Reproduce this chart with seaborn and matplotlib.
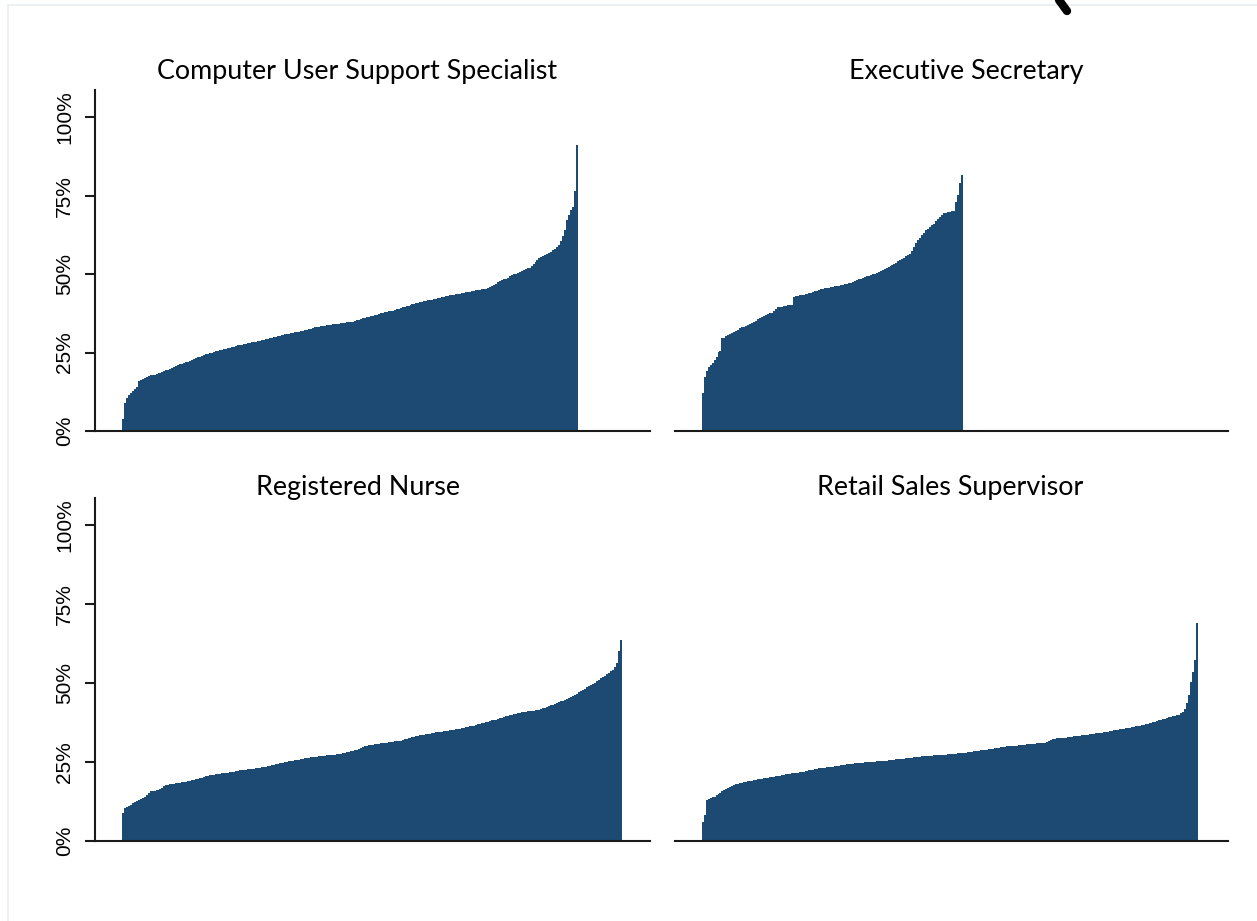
import pandas as pd
import matplotlib.pyplot as plt
import seaborn as sns
from matplotlib.lines import Line2D

# share of each occupation's postings, sorted low to high (values in percent)
jobs = ["Computer User Support Specialist", "Executive Secretary",
        "Registered Nurse", "Retail Sales Supervisor"]

computer = [
    3.8, 8.9, 10.5, 11.5, 12.0, 12.9, 13.4, 13.9, 16.0, 16.2,
    16.5, 16.8, 17.2, 17.6, 17.7, 17.9, 18.0, 18.2, 18.4, 18.6,
    18.8, 19.1, 19.4, 19.6, 19.9, 20.2, 20.5, 20.7, 20.9, 21.2,
    21.4, 21.7, 21.9, 22.0, 22.3, 22.6, 22.9, 23.2, 23.5, 23.7,
    24.0, 24.2, 24.4, 24.6, 24.8, 25.0, 25.2, 25.4, 25.6, 25.8,
    25.9, 26.0, 26.2, 26.4, 26.6, 26.8, 26.9, 27.1, 27.3, 27.4,
    27.5, 27.7, 27.8, 28.0, 28.1, 28.3, 28.4, 28.5, 28.7, 28.8,
    29.0, 29.1, 29.3, 29.4, 29.6, 29.7, 29.9, 30.0, 30.2, 30.4,
    30.5, 30.6, 30.8, 30.9, 31.0, 31.2, 31.3, 31.5, 31.6, 31.7,
    31.9, 32.0, 32.1, 32.2, 32.4, 32.6, 32.8, 33.0, 33.2, 33.3,
    33.4, 33.5, 33.6, 33.7, 33.8, 33.9, 34.0, 34.1, 34.1, 34.2,
    34.3, 34.4, 34.5, 34.6, 34.6, 34.7, 34.9, 35.1, 35.3, 35.5,
    35.7, 35.9, 36.0, 36.2, 36.4, 36.6, 36.6, 36.9, 37.1, 37.3,
    37.5, 37.6, 37.8, 37.9, 38.1, 38.2, 38.4, 38.6, 38.8, 39.0,
    39.2, 39.4, 39.6, 39.8, 40.0, 40.2, 40.4, 40.6, 40.8, 40.9,
    41.1, 41.2, 41.4, 41.5, 41.6, 41.8, 41.9, 42.1, 42.2, 42.3,
    42.5, 42.7, 42.8, 43.0, 43.1, 43.2, 43.4, 43.5, 43.6, 43.7,
    43.8, 43.9, 44.1, 44.2, 44.3, 44.4, 44.6, 44.7, 44.8, 44.9,
    45.0, 45.2, 45.3, 45.4, 45.6, 45.9, 46.3, 46.6, 47.0, 47.4,
    47.8, 48.1, 48.4, 48.6, 48.9, 49.3, 49.6, 50.0, 50.2, 50.5,
    50.8, 51.0, 51.3, 51.5, 51.8, 52.0, 52.5, 53.1, 53.8, 54.4,
    55.0, 55.4, 55.8, 56.1, 56.5, 56.8, 57.2, 57.7, 58.1, 58.6,
    59.2, 60.5, 62.1, 64.0, 67.2, 69.0, 70.4, 71.4, 76.5, 91.2,
]

secretary = [
    12.2, 17.3, 19.2, 20.5, 21.0, 21.6, 22.6, 23.5, 25.3, 25.4,
    29.5, 29.8, 30.2, 30.5, 30.8, 31.1, 31.5, 31.9, 32.3, 32.7,
    33.0, 33.3, 33.6, 33.9, 34.2, 34.5, 34.9, 35.2, 35.6, 36.0,
    36.4, 36.7, 37.0, 37.2, 37.5, 37.7, 38.2, 38.8, 39.4, 39.5,
    39.6, 39.8, 39.9, 40.1, 40.2, 40.3, 42.8, 43.0, 43.1, 43.3,
    43.4, 43.5, 43.6, 43.7, 43.9, 44.0, 44.2, 44.5, 44.7, 44.9,
    45.2, 45.4, 45.5, 45.6, 45.7, 45.8, 46.0, 46.1, 46.2, 46.3,
    46.5, 46.6, 46.8, 46.9, 47.1, 47.2, 47.5, 47.8, 48.1, 48.4,
    48.6, 48.8, 49.1, 49.3, 49.5, 49.7, 49.9, 50.2, 50.4, 50.7,
    51.0, 51.3, 51.7, 52.0, 52.3, 52.5, 52.9, 53.3, 53.7, 54.1,
    54.5, 54.9, 55.3, 55.7, 56.0, 56.4, 57.5, 58.7, 59.8, 60.8,
    61.6, 62.4, 63.2, 64.0, 64.5, 65.0, 65.6, 66.1, 66.8, 67.6,
    68.3, 68.9, 69.5, 69.6, 69.8, 69.9, 70.1, 70.2, 73.0, 75.2,
    79.1, 81.7,
]

nurse = [
    8.8, 10.4, 10.8, 11.1, 11.5, 12.0, 12.5, 12.8, 13.1, 13.4,
    13.7, 14.1, 14.6, 15.2, 15.7, 15.8, 15.9, 16.1, 16.2, 16.4,
    16.8, 17.3, 17.7, 17.9, 18.0, 18.1, 18.2, 18.3, 18.4, 18.5,
    18.6, 18.6, 18.7, 18.9, 19.1, 19.3, 19.4, 19.6, 19.8, 19.9,
    20.1, 20.3, 20.5, 20.6, 20.8, 20.9, 21.0, 21.1, 21.2, 21.3,
    21.4, 21.5, 21.6, 21.7, 21.8, 21.9, 22.0, 22.1, 22.3, 22.4,
    22.5, 22.6, 22.6, 22.7, 22.8, 22.9, 22.9, 23.0, 23.1, 23.2,
    23.3, 23.5, 23.6, 23.8, 23.9, 24.1, 24.2, 24.3, 24.4, 24.6,
    24.7, 24.8, 25.0, 25.1, 25.2, 25.3, 25.4, 25.6, 25.7, 25.8,
    25.9, 26.0, 26.2, 26.3, 26.4, 26.5, 26.5, 26.6, 26.7, 26.8,
    26.9, 26.9, 27.0, 27.1, 27.2, 27.3, 27.4, 27.4, 27.5, 27.6,
    27.7, 27.8, 27.9, 28.1, 28.3, 28.4, 28.6, 28.8, 28.9, 29.1,
    29.4, 29.7, 30.0, 30.2, 30.3, 30.4, 30.5, 30.6, 30.7, 30.8,
    30.9, 31.0, 31.1, 31.2, 31.3, 31.4, 31.5, 31.6, 31.7, 31.7,
    31.8, 32.0, 32.2, 32.4, 32.6, 32.8, 33.0, 33.1, 33.3, 33.4,
    33.5, 33.6, 33.7, 33.8, 33.9, 34.0, 34.1, 34.2, 34.4, 34.5,
    34.6, 34.7, 34.8, 34.9, 35.0, 35.1, 35.2, 35.3, 35.4, 35.4,
    35.5, 35.7, 35.9, 36.0, 36.2, 36.3, 36.5, 36.6, 36.8, 37.0,
    37.1, 37.3, 37.4, 37.6, 37.8, 38.0, 38.2, 38.4, 38.5, 38.7,
    38.9, 39.1, 39.3, 39.5, 39.7, 39.8, 40.0, 40.2, 40.4, 40.5,
    40.7, 40.8, 40.9, 41.0, 41.1, 41.1, 41.2, 41.3, 41.4, 41.5,
    41.6, 41.8, 42.0, 42.3, 42.5, 42.7, 43.0, 43.2, 43.5, 43.7,
    44.0, 44.3, 44.5, 44.8, 45.1, 45.4, 45.7, 46.0, 46.3, 46.7,
    47.1, 47.5, 47.9, 48.3, 48.7, 49.0, 49.4, 49.8, 50.2, 50.6,
    51.1, 51.5, 52.0, 52.4, 52.9, 53.3, 53.8, 54.3, 55.3, 56.4,
    60.1, 63.6,
]

retail = [
    6.1, 8.2, 13.0, 13.2, 13.5, 13.8, 14.1, 14.5, 14.9, 15.3,
    15.8, 16.2, 16.5, 16.8, 17.1, 17.4, 17.7, 18.0, 18.1, 18.3,
    18.4, 18.6, 18.7, 18.9, 19.0, 19.1, 19.3, 19.4, 19.5, 19.6,
    19.8, 19.9, 20.0, 20.1, 20.2, 20.3, 20.4, 20.5, 20.6, 20.7,
    20.9, 21.0, 21.1, 21.2, 21.3, 21.4, 21.5, 21.6, 21.7, 21.8,
    21.9, 22.0, 22.1, 22.2, 22.4, 22.5, 22.6, 22.7, 22.9, 23.0,
    23.1, 23.2, 23.2, 23.3, 23.4, 23.5, 23.6, 23.7, 23.8, 23.9,
    24.0, 24.1, 24.2, 24.3, 24.3, 24.4, 24.5, 24.6, 24.7, 24.7,
    24.8, 24.8, 24.9, 24.9, 25.0, 25.0, 25.1, 25.1, 25.2, 25.2,
    25.3, 25.4, 25.4, 25.5, 25.6, 25.6, 25.7, 25.8, 25.9, 25.9,
    26.0, 26.1, 26.1, 26.2, 26.3, 26.3, 26.4, 26.5, 26.6, 26.6,
    26.7, 26.8, 26.8, 26.9, 26.9, 27.0, 27.0, 27.1, 27.1, 27.2,
    27.2, 27.3, 27.3, 27.4, 27.5, 27.5, 27.6, 27.6, 27.7, 27.8,
    27.8, 27.9, 27.9, 28.0, 28.1, 28.2, 28.3, 28.4, 28.4, 28.5,
    28.6, 28.7, 28.8, 28.8, 28.9, 29.0, 29.2, 29.3, 29.4, 29.5,
    29.6, 29.7, 29.8, 29.9, 30.0, 30.0, 30.1, 30.1, 30.2, 30.2,
    30.3, 30.3, 30.4, 30.5, 30.6, 30.6, 30.7, 30.8, 30.8, 30.9,
    31.0, 31.0, 31.1, 31.2, 31.5, 31.8, 32.1, 32.3, 32.4, 32.5,
    32.5, 32.6, 32.6, 32.7, 32.8, 32.9, 33.0, 33.1, 33.2, 33.3,
    33.4, 33.4, 33.5, 33.6, 33.6, 33.7, 33.8, 33.9, 34.0, 34.1,
    34.2, 34.3, 34.3, 34.4, 34.5, 34.7, 34.8, 35.0, 35.1, 35.2,
    35.3, 35.4, 35.5, 35.6, 35.7, 35.8, 35.9, 36.0, 36.1, 36.3,
    36.4, 36.5, 36.7, 36.8, 37.0, 37.1, 37.3, 37.4, 37.6, 37.8,
    38.0, 38.2, 38.4, 38.6, 38.8, 39.0, 39.2, 39.3, 39.5, 39.7,
    39.8, 40.0, 40.5, 41.0, 41.8, 43.7, 46.3, 50.3, 53.7, 57.3,
    69.1,
]

ytick_vals = [0, 25, 50, 75, 100]
ytick_labels = ["0%", "25%", "50%", "75%", "100%"]

# long table, one row per bar
frames = []
for job, vals in zip(jobs, [computer, secretary, nurse, retail]):
    frames.append(pd.DataFrame({"job": job, "rank": range(len(vals)), "share": vals}))
df = pd.concat(frames, ignore_index=True)

sns.set_style("white")
plt.rcParams["font.family"] = ["Liberation Sans", "DejaVu Sans"]

W, H = 1257, 921
fig = plt.figure(figsize=(W / 100, H / 100), dpi=100)

# axes boxes in pixels: left, baseline, right, top
boxes = [(95, 431, 650, 90), (675, 431, 1228, 90),
         (95, 841, 650, 498), (675, 841, 1228, 498)]
title_pos = [(357, 71), (966, 71), (358, 487), (950, 487)]
bar_color = "#1d4a73"
line_color = "#1a1a1a"

for k, job in enumerate(jobs):
    l, b, r, t = boxes[k]
    ax = fig.add_axes([l / W, 1 - b / H, (r - l) / W, (b - t) / H])
    sub = df[df["job"] == job]
    sns.barplot(data=sub, x="rank", y="share", ax=ax, color=bar_color,
                saturation=1, width=1.0, linewidth=0, errorbar=None,
                native_scale=True)
    # plain pixel fill, no antialias seams between neighbouring bars
    for p in ax.patches:
        p.set_antialiased(False)
    ax.set_xlim(-14.0, 265.7)
    ax.set_ylim(0, 108.7)
    ax.set_xlabel("")
    ax.set_ylabel("")
    ax.set_xticks([])
    for s in ["top", "right"]:
        ax.spines[s].set_visible(False)
    ax.spines["bottom"].set_color(line_color)
    ax.spines["bottom"].set_linewidth(1.5)
    if k % 2 == 0:
        ax.spines["left"].set_color(line_color)
        ax.spines["left"].set_linewidth(1.5)
        ax.set_yticks(ytick_vals)
        ax.set_yticklabels(ytick_labels, rotation=90, va="center", fontsize=15)
        ax.tick_params(axis="y", left=True, length=7, width=1.5,
                       color=line_color, labelcolor="black", pad=8)
    else:
        ax.spines["left"].set_visible(False)
        ax.set_yticks([])
    tx, ty = title_pos[k]
    fig.text(tx / W, 1 - ty / H, job, ha="center", va="center",
             fontsize=19.4, color="black", family=["Lato", "DejaVu Sans"])

# faint frame of the source slide and the clipped glyph at the top edge
fig.add_artist(Line2D([8 / W, 8 / W], [0, 1 - 5 / H], color="#e9edf0", lw=1.2))
fig.add_artist(Line2D([8 / W, 1], [1 - 5 / H, 1 - 5 / H], color="#e9edf0", lw=1.2))
fig.add_artist(Line2D([1059 / W, 1067 / W], [1.0, 1 - 11 / H], color="black",
                      lw=6, solid_capstyle="round"))

plt.savefig("out.png", dpi=100)
